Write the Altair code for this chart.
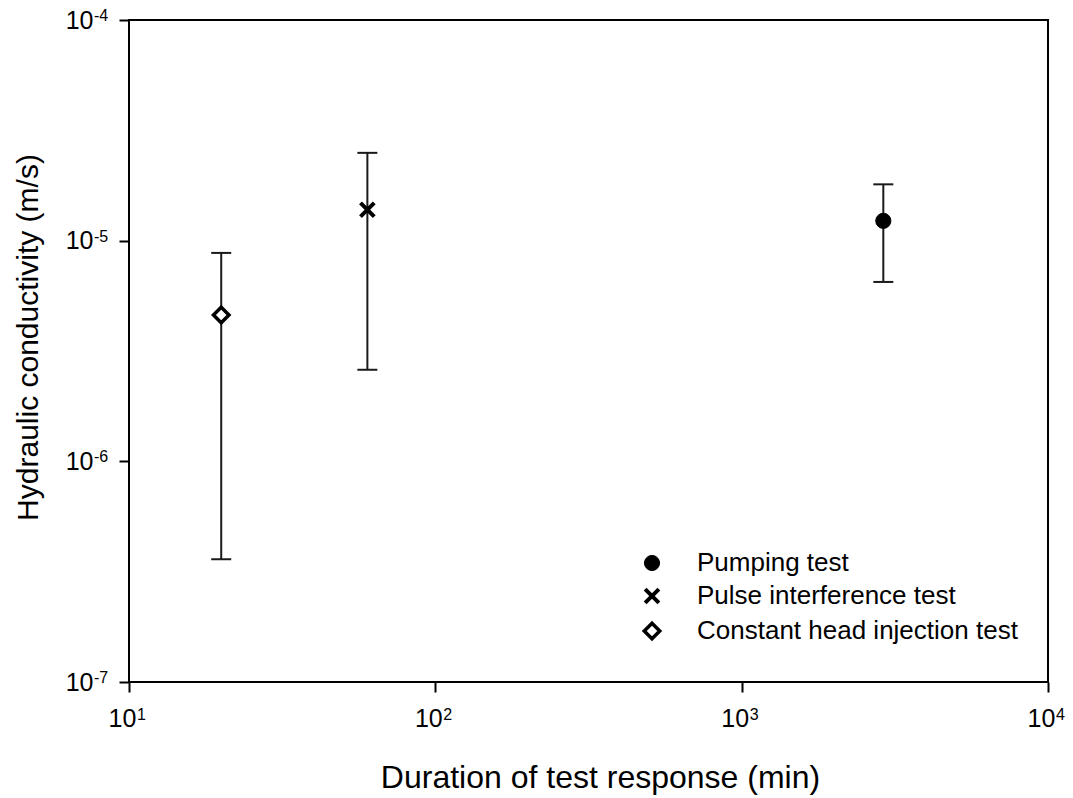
import altair as alt
import pandas as pd

tests = ["Pumping test", "Pulse interference test", "Constant head injection test"]
duration = [2900, 60, 20]           # min
k_mid = [1.23e-5, 1.38e-5, 4.6e-6]  # m/s
k_low = [6.5e-6, 2.6e-6, 3.6e-7]
k_high = [1.8e-5, 2.5e-5, 8.8e-6]

x_ticks = [10, 100, 1000, 10000]
x_exps = ["1", "2", "3", "4"]
y_ticks = [1e-7, 1e-6, 1e-5, 1e-4]
y_exps = ["-7", "-6", "-5", "-4"]

df = pd.DataFrame({
    "test": tests,
    "duration": duration,
    "k": k_mid,
    "k_low": k_low,
    "k_high": k_high,
})
xt = pd.DataFrame({"v": x_ticks, "e": x_exps})
yt = pd.DataFrame({"v": y_ticks, "e": y_exps})

FONT = "Liberation Sans"
X_SHAPE = "M-1,-1L1,1M-1,1L1,-1"
INK = "#1a1a1a"

xscale = alt.Scale(type="log", domain=[10, 10000], nice=False)
yscale = alt.Scale(type="log", domain=[1e-7, 1e-4], nice=False)

xaxis = alt.Axis(values=x_ticks, labelExpr="'10'", title="Duration of test response (min)",
                 grid=False, domain=False, tickSize=10, tickWidth=2, tickColor="black",
                 labelFontSize=25, labelFont=FONT, labelColor="black", labelPadding=14,
                 labelOffset=-7, labelFlush=False,
                 titleFontSize=32, titleFont=FONT, titleFontWeight="normal", titleColor="black",
                 titleX=471, titleY=105, titleBaseline="alphabetic", titleAlign="center")
yaxis = alt.Axis(values=y_ticks, labelExpr="'10'", title="Hydraulic conductivity (m/s)",
                 grid=False, domain=False, tickSize=10, tickWidth=2, tickColor="black",
                 labelFontSize=25, labelFont=FONT, labelColor="black", labelPadding=26,
                 labelFlush=False,
                 titleFontSize=30, titleFont=FONT, titleFontWeight="normal", titleColor="black",
                 titleX=-92, titleY=317, titleBaseline="alphabetic", titleAlign="center", titleAngle=-90)

base = alt.Chart(df)

bars = base.mark_rule(color=INK, strokeWidth=2).encode(
    x=alt.X("duration:Q", scale=xscale, axis=xaxis),
    y=alt.Y("k_low:Q", scale=yscale, axis=yaxis), y2="k_high:Q")
cap_top = base.mark_tick(orient="horizontal", size=20, thickness=2, color=INK, opacity=1).encode(
    x=alt.X("duration:Q", scale=xscale), y=alt.Y("k_high:Q", scale=yscale))
cap_low = base.mark_tick(orient="horizontal", size=20, thickness=2, color=INK, opacity=1).encode(
    x=alt.X("duration:Q", scale=xscale), y=alt.Y("k_low:Q", scale=yscale))

legend = alt.Legend(title=None, orient="none", legendX=510, legendY=530,
                    labelFontSize=26, labelFont=FONT, labelColor="black", labelLimit=600,
                    labelOffset=32, rowPadding=5, padding=0)

points = base.mark_point(filled=False, opacity=1).encode(
    x=alt.X("duration:Q", scale=xscale),
    y=alt.Y("k:Q", scale=yscale),
    shape=alt.Shape("test:N", scale=alt.Scale(domain=tests, range=["circle", X_SHAPE, "diamond"]),
                    legend=legend, sort=tests),
    fill=alt.Fill("test:N", scale=alt.Scale(domain=tests, range=["black", "transparent", "white"]),
                  legend=legend, sort=tests),
    stroke=alt.Stroke("test:N", scale=alt.Scale(domain=tests, range=["black", "black", "black"]),
                      legend=legend, sort=tests),
    strokeWidth=alt.StrokeWidth("test:N",
                                scale=alt.Scale(type="ordinal", domain=tests, range=[1, 4, 3.5]),
                                legend=legend, sort=tests),
    size=alt.Size("test:N", scale=alt.Scale(type="ordinal", domain=tests, range=[230, 190, 240]),
                  legend=legend, sort=tests),
)

x_exp = alt.Chart(xt).mark_text(align="left", baseline="top", font=FONT, fontSize=16,
                                color="black", dx=8, dy=25).encode(
    x=alt.X("v:Q", scale=xscale), y=alt.datum(1e-7, scale=yscale), text="e:N")
y_exp = alt.Chart(yt).mark_text(align="left", baseline="alphabetic", font=FONT, fontSize=16,
                                color="black", dx=-35, dy=1).encode(
    x=alt.datum(10), y=alt.Y("v:Q", scale=yscale), text="e:N")

chart = alt.layer(bars, cap_top, cap_low, points, x_exp, y_exp).properties(
    width=919, height=662,
    autosize=alt.AutoSizeParams(type="none"),
    padding={"left": 129, "top": 20, "right": 25, "bottom": 116},
).configure_view(stroke="black", strokeWidth=2)

chart.save("out.html", embed_options={"renderer": "svg", "actions": False})
